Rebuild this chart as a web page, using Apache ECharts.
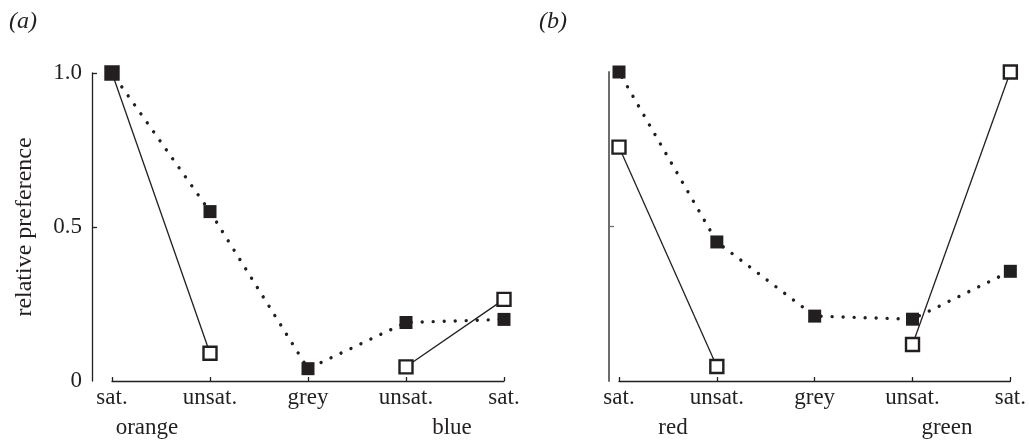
<!DOCTYPE html>
<html><head><meta charset="utf-8">
<script src="https://cdn.jsdelivr.net/npm/echarts@6/dist/echarts.min.js"></script>
<style>html,body{margin:0;padding:0;background:#fff}#c{width:1029px;height:441px}</style>
</head><body><div id="c"></div>
<script>
const categories = ['sat.', 'unsat.', 'grey', 'unsat.', 'sat.'];
const yTicks = [0, 0.5, 1.0];
// panel (a): orange / blue
const filledA = [1.0, 0.55, 0.04, 0.19, 0.20];
const openOrange = [1.0, 0.09, null, null, null];
const openBlue = [null, null, null, 0.046, 0.265];
// panel (b): red / green
const filledB = [1.0, 0.45, 0.21, 0.20, 0.355];
const openRed = [0.757, 0.047, null, null, null];
const openGreen = [null, null, null, 0.118, 1.0];

const INK = '#231f20';
const FONT = "'Liberation Serif', 'Times New Roman', Times, serif";
const chart = echarts.init(document.getElementById('c'), null, {renderer: 'canvas'});

function xAx(gi) {
  return {
    type: 'category', gridIndex: gi, data: categories, boundaryGap: false,
    axisLine: {lineStyle: {color: INK, width: 1.3}},
    axisTick: {inside: true, length: 4, lineStyle: {color: INK, width: 1.3}},
    axisLabel: {color: INK, fontFamily: FONT, fontSize: 23, margin: 5},
    splitLine: {show: false}
  };
}
function yAx(gi, off, showLabels, color, width, tickVals) {
  return {
    type: 'value', gridIndex: gi, min: 0, max: 1, interval: 0.5, offset: off,
    name: showLabels ? 'relative preference' : '', nameLocation: 'middle', nameGap: 55,
    nameTextStyle: {color: INK, fontFamily: FONT, fontSize: 24},
    axisLine: {show: true, lineStyle: {color: color, width: width}},
    axisTick: {show: true, inside: true, length: 5, customValues: tickVals, lineStyle: {color: color, width: 1.3}},
    axisLabel: {show: showLabels, customValues: yTicks, color: INK, fontFamily: FONT, fontSize: 23, margin: 10,
      formatter: v => v === 0 ? '0' : v.toFixed(1)},
    splitLine: {show: false}
  };
}
function filled(gi, data) {
  return {type: 'line', xAxisIndex: gi, yAxisIndex: gi, data: data, z: 3,
    symbol: 'rect', symbolSize: 13, itemStyle: {color: INK},
    lineStyle: {color: INK, width: 3.4, type: [0.01, 11], cap: 'round', dashOffset: 5}};
}
function open(gi, data) {
  return {type: 'line', xAxisIndex: gi, yAxisIndex: gi, data: data, z: 2, connectNulls: false,
    symbol: 'rect', symbolSize: 13, showSymbol: true,
    itemStyle: {color: '#fff', borderColor: INK, borderWidth: 2.4},
    lineStyle: {color: INK, width: 1.3}};
}
const txt = (t, x, y, italic) => ({type: 'text', x: x, y: y,
  style: {text: t, fontFamily: FONT, fontSize: italic ? 24 : 23, fontStyle: italic ? 'italic' : 'normal', fill: INK, align: 'center', verticalAlign: 'middle'}});

chart.setOption({
  animation: false,
  backgroundColor: '#fff',
  grid: [
    {left: 112, right: 525, top: 73, bottom: 60},
    {left: 619, right: 16, top: 72, bottom: 60}
  ],
  xAxis: [xAx(0), xAx(1)],
  yAxis: [yAx(0, 20, true, INK, 1.3, [0.5, 1.0]), yAx(1, 10, false, '#6d6d6d', 2, [0.5])],
  series: [
    open(0, openOrange), open(0, openBlue), filled(0, filledA),
    open(1, openRed), open(1, openGreen), filled(1, filledB)
  ],
  graphic: [
    txt('(a)', 23, 22, true), txt('(b)', 553, 22, true),
    txt('orange', 147, 428), txt('blue', 452, 428),
    txt('red', 673, 428), txt('green', 947, 428)
  ]
});
</script></body></html>
